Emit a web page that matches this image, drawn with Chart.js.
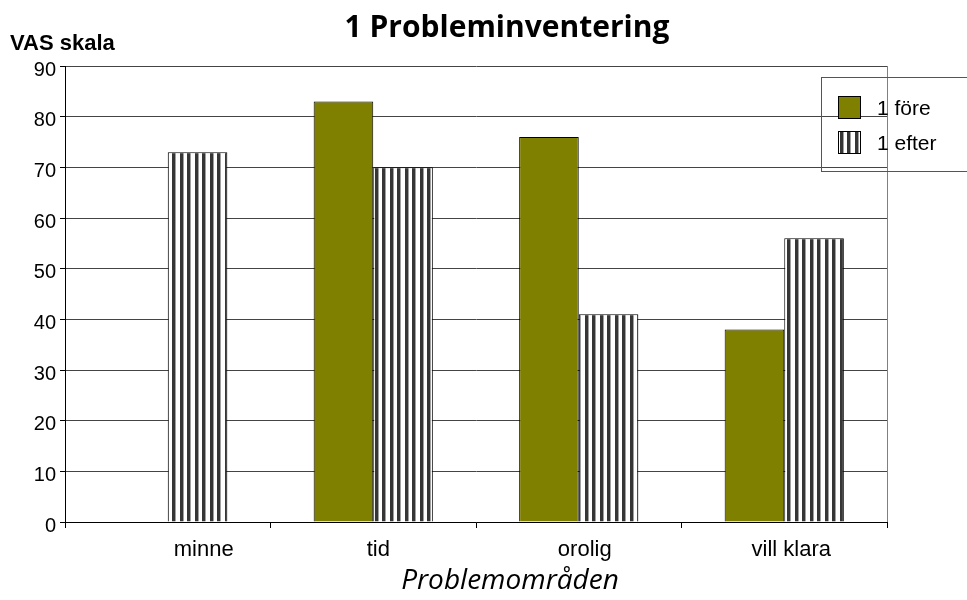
<!DOCTYPE html>
<html>
<head>
<meta charset="utf-8">
<script src="https://cdn.jsdelivr.net/npm/chart.js@4/dist/chart.umd.min.js"></script>
<style>
  html, body { margin: 0; padding: 0; background: #ffffff; }
  #wrap { width: 967px; height: 600px; }
</style>
</head>
<body>
<div id="wrap"><canvas id="c" width="967" height="600"></canvas></div>
<script>
// Problem areas and VAS scores before / after
const categories = ['minne', 'tid', 'orolig', 'vill klara'];
const seriesLabels = ['1 före', '1 efter'];
const foreValues = [null, 83, 76, 38];
const efterValues = [73, 70, 41, 56];
const yTicks = [0, 10, 20, 30, 40, 50, 60, 70, 80, 90];

const chartTitle = '1 Probleminventering';
const yAxisTitle = 'VAS skala';
const xAxisTitle = 'Problemområden';

const OLIVE = '#808000';
const SANS = '"Liberation Sans", Arial, sans-serif';
// horizontal nudge (px) of each category caption from its slot centre
const labelNudge = [36, 5, 6, 7];

// vertical stripe fill for the "efter" bars
function stripePattern(ctx) {
  const p = document.createElement('canvas');
  p.width = 15; p.height = 4;
  const g = p.getContext('2d');
  g.fillStyle = '#ffffff';
  g.fillRect(0, 0, 15, 4);
  g.fillStyle = '#363636';
  g.fillRect(0, 0, 3, 4);
  g.fillRect(7, 0, 3, 4);
  g.fillStyle = '#a0a0a0';
  g.fillRect(3, 0, 1, 4);
  g.fillRect(10, 0, 1, 4);
  return ctx.createPattern(p, 'repeat');
}

const canvas = document.getElementById('c');
const ctx = canvas.getContext('2d');
const stripes = stripePattern(ctx);

// titles, category captions, right border of the plot and the framed legend
const decorations = {
  id: 'decorations',
  afterDatasetsDraw(chart) {
    const c = chart.ctx;
    const a = chart.chartArea;
    const xs = chart.scales.x;
    c.save();
    // right edge of plot area
    c.strokeStyle = '#808080';
    c.lineWidth = 1;
    c.beginPath();
    c.moveTo(a.right + 0.5, a.top);
    c.lineTo(a.right + 0.5, a.bottom);
    c.stroke();

    // category captions
    c.fillStyle = '#000000';
    c.font = '22px ' + SANS;
    c.textAlign = 'center';
    c.textBaseline = 'alphabetic';
    chart.data.labels.forEach((lab, i) => {
      c.fillText(lab, xs.getPixelForValue(i) + labelNudge[i], 556);
    });

    // legend frame (no fill)
    c.strokeStyle = '#555555';
    c.strokeRect(821.5, 77.5, 160, 94);
    const rows = [107, 142];
    const baselines = [115, 150];
    chart.data.datasets.forEach((ds, i) => {
      const y = rows[i];
      c.fillStyle = ds.backgroundColor;
      c.fillRect(838, y - 11, 22, 22);
      c.strokeStyle = '#000000';
      c.strokeRect(838.5, y - 10.5, 22, 22);
      c.fillStyle = '#000000';
      c.font = '21px ' + SANS;
      c.textBaseline = 'alphabetic';
      c.textAlign = 'left';
      c.fillText(ds.label, 877, baselines[i]);
    });

    // titles
    c.fillStyle = '#000000';
    c.textBaseline = 'alphabetic';
    c.textAlign = 'center';
    c.font = 'bold 30px "Open Sans", sans-serif';
    c.fillText(chartTitle, 507, 37);
    c.font = 'italic 28px "Open Sans", sans-serif';
    c.fillText(xAxisTitle, 510, 589);
    c.textAlign = 'left';
    c.font = 'bold 22px ' + SANS;
    c.fillText(yAxisTitle, 10, 50);
    c.restore();
  }
};

new Chart(ctx, {
  type: 'bar',
  data: {
    labels: categories,
    datasets: [
      {
        label: seriesLabels[0],
        data: foreValues,
        backgroundColor: OLIVE,
        borderColor: '#000000',
        borderWidth: 1,
        categoryPercentage: 0.58,
        barPercentage: 1.0
      },
      {
        label: seriesLabels[1],
        data: efterValues,
        backgroundColor: stripes,
        borderColor: '#000000',
        borderWidth: 1,
        categoryPercentage: 0.58,
        barPercentage: 1.0
      }
    ]
  },
  options: {
    responsive: false,
    animation: false,
    devicePixelRatio: 1,
    layout: { padding: { top: 66, right: 80, bottom: 0, left: 0 } },
    plugins: {
      legend: { display: false },
      title: { display: false },
      tooltip: { enabled: false }
    },
    scales: {
      x: {
        afterFit(scale) { scale.height = 78; },
        grid: {
          display: true,
          offset: true,
          drawOnChartArea: false,
          drawTicks: true,
          tickLength: 6,
          color: '#000000'
        },
        border: { display: true, color: '#000000', width: 1 },
        ticks: { display: false }
      },
      y: {
        min: 0,
        max: 90,
        afterFit(scale) { scale.width = 65; },
        afterBuildTicks(scale) { scale.ticks = yTicks.map(v => ({ value: v })); },
        grid: {
          color: '#444444',
          lineWidth: 1,
          drawTicks: true,
          tickLength: 5,
          tickColor: '#000000'
        },
        border: { display: true, color: '#000000', width: 1 },
        ticks: {
          color: '#000000',
          padding: 4,
          labelOffset: 4,
          font: { family: SANS, size: 20 }
        }
      }
    }
  },
  plugins: [decorations]
});
</script>
</body>
</html>
